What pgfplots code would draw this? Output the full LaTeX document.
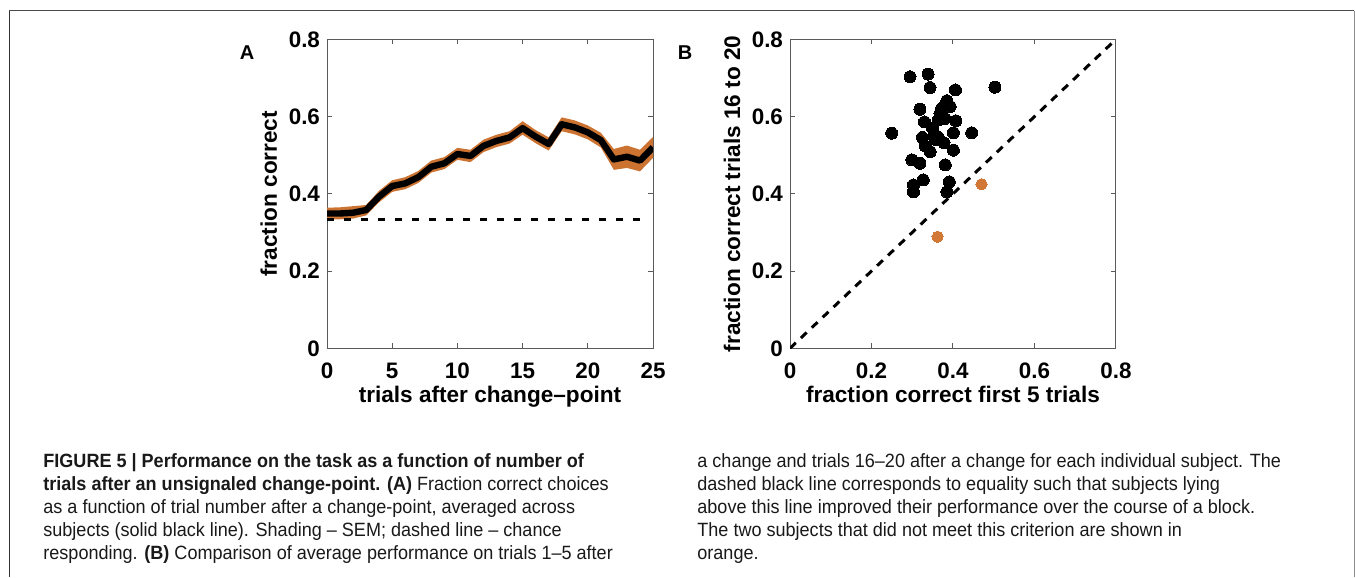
\documentclass[border=0pt]{standalone}
\usepackage{fontspec}
\setmainfont{Liberation Sans}
\newfontfamily\capfont[FakeStretch=0.94]{Liberation Sans}
\usepackage{pgfplots}
\usepackage{pgfplotstable}
\pgfplotsset{compat=1.18}
\usepgfplotslibrary{fillbetween}
\definecolor{band}{RGB}{205,115,50}
\definecolor{orng}{RGB}{210,120,55}
\definecolor{axgray}{RGB}{90,90,90}

\pgfplotstableread{
x y lo hi
0 0.349 0.334 0.364
1 0.349 0.334 0.365
2 0.351 0.336 0.368
3 0.358 0.344 0.371
4 0.393 0.378 0.408
5 0.420 0.405 0.435
6 0.427 0.412 0.443
7 0.443 0.428 0.459
8 0.470 0.455 0.486
9 0.479 0.464 0.495
10 0.503 0.488 0.519
11 0.498 0.482 0.514
12 0.524 0.508 0.540
13 0.537 0.521 0.553
14 0.546 0.530 0.562
15 0.570 0.553 0.588
16 0.548 0.531 0.565
17 0.529 0.512 0.546
18 0.580 0.562 0.598
19 0.572 0.554 0.590
20 0.559 0.541 0.577
21 0.539 0.520 0.558
22 0.489 0.462 0.516
23 0.496 0.467 0.525
24 0.486 0.458 0.514
25 0.520 0.493 0.547
}\dataA

\pgfplotstableread{
x y
0.2945 0.703
0.339 0.710
0.3436 0.675
0.503 0.676
0.406 0.669
0.385 0.641
0.393 0.626
0.372 0.621
0.319 0.619
0.368 0.608
0.380 0.595
0.364 0.591
0.407 0.589
0.330 0.586
0.350 0.570
0.2495 0.557
0.401 0.558
0.446 0.558
0.354 0.555
0.325 0.546
0.357 0.541
0.364 0.546
0.378 0.532
0.332 0.524
0.401 0.513
0.344 0.509
0.299 0.488
0.319 0.479
0.381 0.475
0.327 0.436
0.391 0.431
0.303 0.423
0.303 0.405
0.385 0.405
}\dataB

\pgfplotstableread{
x y
0.470 0.425
0.362 0.289
}\dataBo

\pgfplotsset{
  panel/.style={
    scale only axis, width=163pt, height=154.5pt,
    axis line style={axgray, line width=0.5pt},
    tick style={axgray, line width=0.5pt},
    major tick length=2.5pt, tick align=inside,
    ymin=0, ymax=0.8, ytick={0,0.2,0.4,0.6,0.8},
    ticklabel style={font=\bfseries\fontsize{11.2}{13}\selectfont},
    /pgf/number format/assume math mode=true,
    xticklabel style={yshift=-3.7pt},
    label style={font=\bfseries\fontsize{11.3}{13}\selectfont},
    xlabel style={at={(axis description cs:0.5,-0.1748)}, anchor=base},
    ylabel style={at={(axis description cs:-0.1534,0.5)}, anchor=base},
  }
}

\begin{document}
\begin{tikzpicture}[x=0.5pt,y=0.5pt]
% frame
\draw[line width=0.7pt, color=black!80] (9.3,0) -- (9.3,566.3);
\draw[line width=0.7pt, color=black!70] (9.3,566.3) -- (1354.3,566.3);
\draw[line width=0.5pt, color=black!45] (1354.3,566.3) -- (1354.3,0);

% Panel A
\begin{axis}[panel, at={(163.5pt,114.35pt)}, anchor=south west,
  xmin=0, xmax=25, xtick={0,5,10,15,20,25},
  xlabel={trials after change–point}, ylabel={fraction correct}]
\addplot[name path=up, draw=none, forget plot] table[x=x, y=hi] {\dataA};
\addplot[name path=lo, draw=none, forget plot] table[x=x, y=lo] {\dataA};
\addplot[band, draw=none] fill between[of=up and lo];
\addplot[black, line width=3.2pt, line join=round] table[x=x, y=y] {\dataA};
\addplot[black, line width=1.5pt, dash pattern=on 3.5pt off 5pt] coordinates {(0,0.333) (24.4,0.333)};
\end{axis}

% Panel B
\begin{axis}[panel, at={(395pt,114.35pt)}, anchor=south west,
  xmin=0, xmax=0.8, xtick={0,0.2,0.4,0.6,0.8},
  xlabel={fraction correct first 5 trials}, ylabel={fraction correct trials 16 to 20}]
\addplot[black, line width=1.5pt, dash pattern=on 4pt off 3.5pt] coordinates {(0,0) (0.8,0.8)};
\addplot[only marks, color=black, mark=*, mark size=3pt, mark options={solid, fill=black, draw=black, line width=0pt}] table[x=x, y=y] {\dataB};
\addplot[only marks, color=orng, mark=*, mark size=2.8pt, mark options={solid, fill=orng, draw=orng, line width=0pt}] table[x=x, y=y] {\dataBo};
\end{axis}

\node[font=\bfseries\fontsize{10}{12}\selectfont] at (247,524) {A};
\node[font=\bfseries\fontsize{10}{12}\selectfont] at (685,524) {B};

% caption
\begin{scope}[every node/.style={anchor=base west, inner sep=0pt, font=\capfont\fontsize{9.6}{11}\selectfont, text=black!90}]
\node at (43,109) {\bfseries FIGURE 5 | Performance on the task as a function of number of};
\node at (43,86) {\textbf{trials after an unsignaled change-point. (A)} Fraction correct choices};
\node at (43,63) {as a function of trial number after a change-point, averaged across};
\node at (43,40) {subjects (solid black line). Shading – SEM; dashed line – chance};
\node at (43,17) {responding. \textbf{(B)} Comparison of average performance on trials 1–5 after};
\node at (697,109) {a change and trials 16–20 after a change for each individual subject. The};
\node at (697,86) {dashed black line corresponds to equality such that subjects lying};
\node at (697,63) {above this line improved their performance over the course of a block.};
\node at (697,40) {The two subjects that did not meet this criterion are shown in};
\node at (697,17) {orange.};
\end{scope}
\path[use as bounding box] (0,0) rectangle (1355,577);
\end{tikzpicture}
\end{document}
